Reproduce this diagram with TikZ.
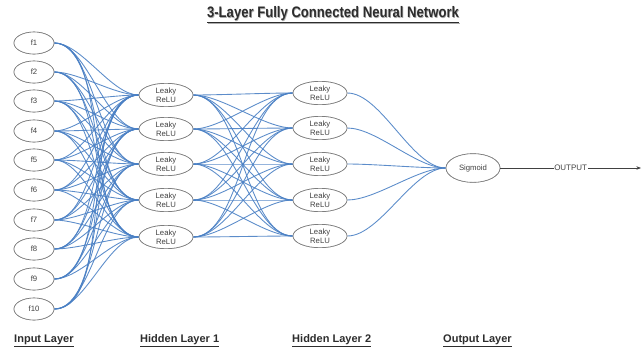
\documentclass[tikz,border=0pt]{standalone}
\usepackage{fontspec}
\setmainfont{Liberation Sans}
\usetikzlibrary{arrows.meta,shapes.geometric}
\definecolor{edgeblue}{RGB}{74,128,196}
\definecolor{ringgray}{RGB}{125,125,125}
\definecolor{txtgray}{RGB}{65,65,65}
\definecolor{headgray}{RGB}{45,45,45}
\begin{document}
\begin{tikzpicture}[x=0.03cm,y=-0.03cm,
  neuron/.style={ellipse, draw=ringgray, line width=0.55pt, fill=white, inner sep=0pt,
    text=txtgray, font=\fontsize{6.6}{7.4}\selectfont, align=center},
  inneuron/.style={neuron, minimum width=1.2cm, minimum height=0.66cm},
  hidneuron/.style={neuron, minimum width=1.62cm, minimum height=0.7cm},
  outneuron/.style={neuron, minimum width=1.62cm, minimum height=0.86cm},
  edge/.style={draw=edgeblue, line width=0.75pt, opacity=0.9, looseness=0.7},
  layerlabel/.style={anchor=west, text=headgray, font=\bfseries\fontsize{9.4}{10}\selectfont, inner sep=0pt},
  titlefont/.style={font=\bfseries\fontsize{13}{14}\selectfont}
]
\useasboundingbox (0,0) rectangle (643,352);

% title with a soft shadow
\node[titlefont, text=gray!65] at (333.7,15.7)
  {\scalebox{0.86}[1]{\underline{3-Layer Fully  Connected Neural Network}}};
\node (title) [titlefont, text=headgray] at (333,15)
  {\scalebox{0.86}[1]{\underline{3-Layer Fully  Connected Neural Network}}};

% input layer
\foreach \i/\y in {1/43,2/72,3/101,4/131,5/160,6/190,7/220,8/249,9/279,10/309}
  \node (i\i) [inneuron] at (34,\y) {f\i};

% hidden layers
\foreach \j/\y in {1/95,2/129,3/164,4/200,5/237}
  \node (h\j) [hidneuron] at (166,\y) {Leaky\\ReLU};
\foreach \k/\y in {1/93,2/128,3/164,4/200,5/236}
  \node (g\k) [hidneuron] at (320,\y) {Leaky\\ReLU};

% output neuron
\node (sig) [outneuron] at (473,168) {Sigmoid};
\coordinate (out) at (641,168);

% connections
\foreach \i in {1,...,10}
  \foreach \j in {1,...,5}
    \draw[edge] (i\i.east) to[out=0,in=180] (h\j.west);
\foreach \j in {1,...,5}
  \foreach \k in {1,...,5}
    \draw[edge] (h\j.east) to[out=0,in=180] (g\k.west);
\foreach \k in {1,...,5}
  \draw[edge] (g\k.east) to[out=0,in=180] (sig.west);

% redraw neurons on top of the connections
\foreach \i/\y in {1/43,2/72,3/101,4/131,5/160,6/190,7/220,8/249,9/279,10/309}
  \node [inneuron] at (34,\y) {f\i};
\foreach \j/\y in {1/95,2/129,3/164,4/200,5/237}
  \node [hidneuron] at (166,\y) {Leaky\\ReLU};
\foreach \k/\y in {1/93,2/128,3/164,4/200,5/236}
  \node [hidneuron] at (320,\y) {Leaky\\ReLU};
\node [outneuron] at (473,168) {Sigmoid};

% output arrow
\draw[draw=txtgray, line width=0.5pt, -{Stealth[length=4pt,width=3pt]}] (sig.east) --
  node[fill=white, inner sep=0.6pt, text=txtgray, font=\fontsize{6.8}{7}\selectfont] {OUTPUT} (out);

% layer captions
\node (l1) [layerlabel] at (14,341) {\underline{Input Layer}};
\node (l2) [layerlabel] at (140,341) {\underline{Hidden Layer 1}};
\node (l3) [layerlabel] at (292,341) {\underline{Hidden Layer 2}};
\node (l4) [layerlabel] at (443,341) {\underline{Output Layer}};
\end{tikzpicture}
\end{document}
